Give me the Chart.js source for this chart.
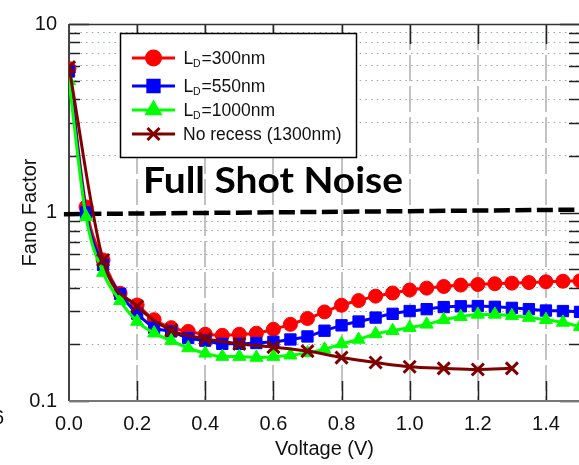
<!DOCTYPE html>
<html lang="en">
  <head>
    <meta charset="UTF-8" />
    <title>Fano Factor vs Voltage</title>
    <style>
      html, body { margin: 0; padding: 0; overflow: hidden; background: #fff; }
      #wrap { width: 600px; height: 465px; }
    </style>
  </head>
  <body>
    <div id="wrap">
      <canvas id="myChart" width="600" height="465"></canvas>
    </div>
    <script src="https://cdn.jsdelivr.net/npm/chart.js"></script>
    <script>
        // voltage steps (V)
        const voltage = [0, 0.05, 0.1, 0.15, 0.2, 0.25, 0.3, 0.35, 0.4, 0.45, 0.5, 0.55, 0.6, 0.65, 0.7, 0.75,
                         0.8, 0.85, 0.9, 0.95, 1.0, 1.05, 1.1, 1.15, 1.2, 1.25, 1.3, 1.35, 1.4, 1.45, 1.5];
        const voltageNoRecess = [0, 0.1, 0.2, 0.3, 0.4, 0.5, 0.6, 0.7, 0.8, 0.9, 1.0, 1.1, 1.2, 1.3];

        const fano300 = [5.8, 1.07, 0.56, 0.373, 0.323, 0.27, 0.245, 0.234, 0.226, 0.223, 0.226, 0.229, 0.24, 0.255, 0.274, 0.297,
                         0.322, 0.341, 0.36, 0.374, 0.388, 0.397, 0.405, 0.412, 0.415, 0.419, 0.422, 0.425, 0.429, 0.432, 0.434];
        const fano550 = [5.6, 1.0, 0.527, 0.37, 0.291, 0.245, 0.234, 0.216, 0.209, 0.201, 0.201, 0.203, 0.206, 0.212, 0.22, 0.236,
                         0.252, 0.264, 0.277, 0.29, 0.3, 0.307, 0.315, 0.318, 0.319, 0.316, 0.312, 0.307, 0.302, 0.3, 0.297];
        const fano1000 = [5.0, 0.95, 0.48, 0.34, 0.264, 0.229, 0.209, 0.191, 0.179, 0.172, 0.172, 0.17, 0.172, 0.175, 0.18, 0.188,
                          0.201, 0.212, 0.227, 0.236, 0.245, 0.255, 0.27, 0.28, 0.288, 0.288, 0.283, 0.277, 0.27, 0.261, 0.248];
        const fanoNoRecess = [5.9, 0.56, 0.318, 0.237, 0.214, 0.201, 0.193, 0.184, 0.17, 0.16, 0.152, 0.149, 0.147, 0.149];

        // full shot noise reference line (F = 1)
        const shotNoiseX = [-0.015, 1.5];
        const shotNoiseY = [0.98, 1.035];

        const yGridValues = [0.1, 0.2, 0.3, 0.4, 0.5, 0.6, 0.7, 0.8, 0.9, 1, 2, 3, 4, 5, 6, 7, 8, 9, 10];
        const yMajorValues = [0.1, 1, 10];
        const yTickLabels = ["0.1", "1", "10"];

        const seriesNames = ["300nm", "550nm", "1000nm", "No recess (1300nm)"];
        const seriesColors = ["#ff0000", "#0000ff", "#00ff00", "#800000"];
        const seriesMarkers = ["circle", "rect", "triangle", "crossRot"];
        const markerRadius = [7, 8, 7.5, 8.5];

        const txtFont = "'Liberation Sans', Arial, sans-serif";

        const pts = (xs, ys) => xs.map((x, i) => ({x: x, y: ys[i]}));

        function series(i, xs, ys, order) {
            return {
                label: seriesNames[i],
                data: pts(xs, ys),
                borderColor: seriesColors[i],
                backgroundColor: seriesColors[i],
                borderWidth: 3,
                pointStyle: seriesMarkers[i],
                pointRadius: markerRadius[i],
                pointBackgroundColor: seriesColors[i],
                pointBorderColor: seriesColors[i],
                pointBorderWidth: i === 3 ? 3 : 1,
                cubicInterpolationMode: 'monotone',
                order: order
            };
        }

        // frame + inward ticks
        const frame = {
            id: 'frame',
            beforeDatasetsDraw(chart) {
                const {ctx, chartArea: {left, right, top, bottom}, scales: {x, y}} = chart;
                ctx.save();
                ctx.setLineDash([]);
                ctx.strokeStyle = '#222';
                ctx.lineWidth = 1.5;
                ctx.beginPath();
                x.ticks.forEach(t => {
                    if (t.value < 0.01) return;
                    const px = Math.round(x.getPixelForValue(t.value)) + 0.5;
                    ctx.moveTo(px, bottom); ctx.lineTo(px, bottom - 20);
                    ctx.moveTo(px, top); ctx.lineTo(px, top + 20);
                });
                yGridValues.forEach(v => {
                    const py = Math.round(y.getPixelForValue(v)) + 0.5;
                    const len = yMajorValues.includes(v) ? 20 : 11;
                    ctx.moveTo(left, py); ctx.lineTo(left + len, py);
                    ctx.moveTo(right, py); ctx.lineTo(right - len, py);
                });
                ctx.stroke();

                ctx.lineWidth = 1.5;
                ctx.strokeStyle = '#333';
                ctx.beginPath();
                ctx.moveTo(left, top + 0.5); ctx.lineTo(right, top + 0.5);
                ctx.moveTo(right, top); ctx.lineTo(right, bottom);
                ctx.stroke();
                ctx.lineWidth = 2;
                ctx.strokeStyle = '#444';
                ctx.beginPath();
                ctx.moveTo(left, top); ctx.lineTo(left, bottom);
                ctx.stroke();
                ctx.strokeStyle = '#777';
                ctx.beginPath();
                ctx.moveTo(left, bottom); ctx.lineTo(right, bottom);
                ctx.stroke();
                ctx.restore();
            }
        };

        // legend box with subscripts and the "Full Shot Noise" label
        const annotations = {
            id: 'annotations',
            afterDatasetsDraw(chart) {
                const {ctx} = chart;
                ctx.save();
                ctx.setLineDash([]);

                // stretch the bold label to the width it has in the source
                ctx.font = "bold 36px Lato, 'Open Sans', sans-serif";
                ctx.fillStyle = '#000';
                ctx.textBaseline = 'alphabetic';
                ctx.textAlign = 'left';
                const label = 'Full Shot Noise';
                const sx = 260 / ctx.measureText(label).width;
                ctx.save();
                ctx.translate(143, 193);
                ctx.scale(sx, 1);
                ctx.fillText(label, 0, 0);
                ctx.restore();

                ctx.fillStyle = '#fff';
                ctx.fillRect(120, 33, 236, 124);
                ctx.strokeStyle = '#000';
                ctx.lineWidth = 1.5;
                ctx.strokeRect(120.5, 33.5, 236, 124);

                const rowY = [58, 86, 110, 134];
                seriesNames.forEach((name, i) => {
                    const yy = rowY[i];
                    ctx.strokeStyle = seriesColors[i];
                    ctx.fillStyle = seriesColors[i];
                    ctx.lineWidth = 3;
                    ctx.beginPath();
                    ctx.moveTo(132, yy); ctx.lineTo(175, yy);
                    ctx.stroke();
                    Chart.helpers.drawPoint(ctx, {
                        pointStyle: seriesMarkers[i],
                        radius: markerRadius[i],
                        rotation: 0,
                        borderWidth: i === 3 ? 3 : 1
                    }, 153.5, yy);

                    ctx.fillStyle = '#111';
                    ctx.font = "17.5px " + txtFont;
                    if (i < 3) {
                        ctx.fillText('L', 183.5, yy + 5.5);
                        ctx.font = "10.5px " + txtFont;
                        ctx.fillText('D', 193, yy + 8.5);
                        ctx.font = "17.5px " + txtFont;
                        ctx.fillText('=' + name, 201.5, yy + 5.5);
                    } else {
                        ctx.fillText(name, 183, yy + 5.5);
                    }
                });

                ctx.font = "20px " + txtFont;
                ctx.fillStyle = '#111';
                ctx.fillText('6', -7, 424);
                ctx.restore();
            }
        };

        const data = {
            datasets: [
                series(0, voltage, fano300, 3),
                series(1, voltage, fano550, 2),
                series(2, voltage, fano1000, 1),
                series(3, voltageNoRecess, fanoNoRecess, 0),
                {
                    label: 'Full Shot Noise',
                    data: pts(shotNoiseX, shotNoiseY),
                    borderColor: '#000',
                    borderWidth: 4.5,
                    borderDash: [16, 5.5],
                    pointRadius: 0,
                    clip: false,
                    order: 5
                }
            ]
        };

        const config = {
            type: 'line',
            data: data,
            plugins: [frame, annotations],
            options: {
                responsive: false,
                animation: false,
                layout: {
                    padding: {top: 16, right: 20, left: 0, bottom: 0}
                },
                plugins: {
                    legend: {display: false},
                    tooltip: {enabled: false}
                },
                scales: {
                    x: {
                        type: 'linear',
                        min: 0,
                        max: 1.5,
                        afterFit(scale) { scale.height = 64; },
                        grid: {
                            drawTicks: false,
                            lineWidth: 2,
                            color: (c) => (c.tick && c.tick.value > 0.01) ? '#c2c2c2' : 'rgba(0,0,0,0)'
                        },
                        border: {display: false, dash: [26, 5]},
                        ticks: {
                            stepSize: 0.2,
                            includeBounds: false,
                            autoSkip: false,
                            maxRotation: 0,
                            padding: 11,
                            color: '#111',
                            font: {family: txtFont, size: 20},
                            callback: (v) => Number(v).toFixed(1)
                        },
                        title: {
                            display: true,
                            text: 'Voltage (V)',
                            color: '#111',
                            font: {family: txtFont, size: 20},
                            padding: {top: 0, bottom: 4}
                        }
                    },
                    y: {
                        type: 'logarithmic',
                        min: 0.1,
                        max: 10,
                        afterFit(scale) { scale.width = 69; },
                        afterBuildTicks(scale) {
                            scale.ticks = yGridValues.map(v => ({value: v, major: yMajorValues.includes(v)}));
                        },
                        grid: {
                            drawTicks: false,
                            lineWidth: 1,
                            color: (c) => (c.tick && !yMajorValues.includes(c.tick.value)) ? '#98a8a8' : 'rgba(0,0,0,0)'
                        },
                        border: {display: false, dash: [1.5, 4.2]},
                        ticks: {
                            autoSkip: false,
                            padding: 12,
                            color: '#111',
                            font: {family: txtFont, size: 20},
                            callback: (v) => {
                                const k = yMajorValues.indexOf(v);
                                return k >= 0 ? yTickLabels[k] : '';
                            }
                        },
                        title: {
                            display: true,
                            text: 'Fano Factor',
                            color: '#111',
                            font: {family: txtFont, size: 20},
                            padding: {top: 18, bottom: 0}
                        }
                    }
                }
            }
        };

        const myChart = new Chart(document.getElementById('myChart'), config);
    </script>
  </body>
</html>
